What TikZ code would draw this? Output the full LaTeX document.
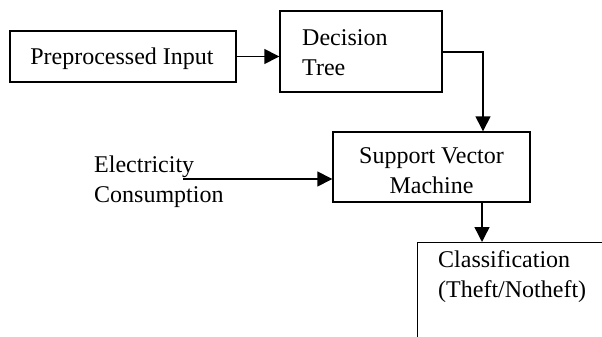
\documentclass[tikz,border=0pt]{standalone}
\usepackage{fontspec}
\setmainfont{Liberation Serif}
\usetikzlibrary{arrows.meta}
\begin{document}
\begin{tikzpicture}[x=1pt,y=-1pt,
  box/.style={draw,line width=1.4pt,inner sep=0pt},
  lbl/.style={inner sep=0pt,font=\fontsize{24}{29.5}\selectfont},
  conn/.style={line width=1.4pt,-{Triangle[length=15pt,width=15pt]}}]
\useasboundingbox (0,0) rectangle (602,337);
\begin{scope}
\clip (0,0) rectangle (602,337);
% boxes
\node[box,minimum width=226pt,minimum height=51pt] (pre) at (123,56.5) {};
\node[lbl,anchor=base] (pretext) at (122,65) {Preprocessed Input};
\node[box,minimum width=162pt,minimum height=81pt] (dt) at (361,51.5) {};
\node[lbl,anchor=base west,align=left] (dttext) at (302,75) {Decision\\Tree};
\node[box,minimum width=197pt,minimum height=70pt] (svm) at (431.5,167) {};
\node[lbl,align=center,anchor=base] (svmtext) at (431.5,193) {Support Vector\\Machine};
\node[lbl,anchor=base west,align=left] (elec) at (94,202) {Electricity\\Consumption};
\coordinate (elecend) at (183,179);
\node[box,minimum width=200pt,minimum height=110pt,anchor=north west] (cls) at (417,242) {};
\node[lbl,anchor=base west,align=left] (clstext) at (438,297) {Classification\\(Theft/Notheft)};
% connectors
\draw[conn] (pre.east) -- (dt.west|-pre.east);
\draw[conn] (dt.east|-0,52) -| (svm.north-|483,0);
\draw[conn] (elecend) -- (svm.west|-elecend);
\draw[conn] (svm.south-|482,0) -- (cls.north-|482,0);
\end{scope}
\end{tikzpicture}
\end{document}
